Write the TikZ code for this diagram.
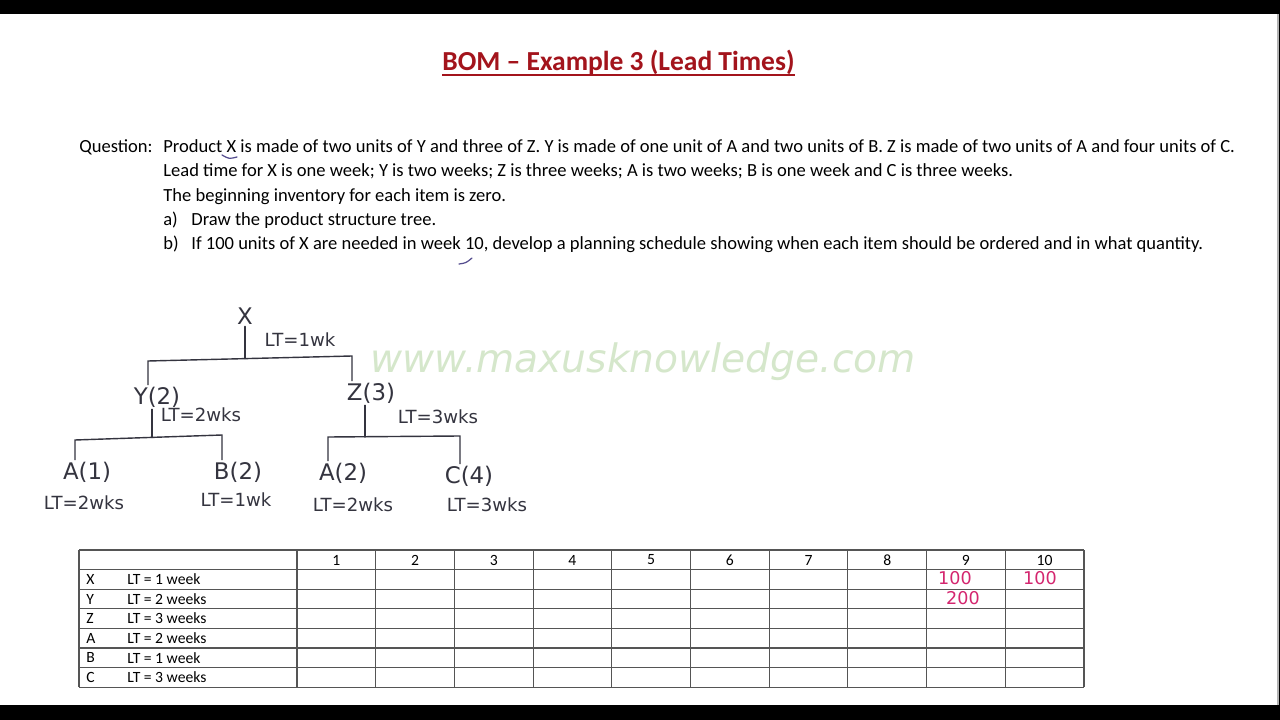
\documentclass[tikz,border=0pt]{standalone}
\usepackage{fontspec}
\setmainfont{Carlito}
\newfontfamily\handfont{DejaVu Sans}
\newfontfamily\markfont{DejaVu Sans}
\usepackage{xcolor}

\definecolor{titlered}{HTML}{A3141C}
\definecolor{ink}{HTML}{34343F}
\definecolor{pen}{HTML}{D4266F}
\definecolor{wmgreen}{HTML}{D5E7CB}
\definecolor{scribble}{HTML}{544C8E}
\definecolor{gridgray}{HTML}{555555}

\newcommand{\bodysize}{\fontsize{10.55}{13.6}\selectfont}
\newcommand{\cellsize}{\fontsize{8.9}{10}\selectfont}

\tikzset{
  body/.style={font=\bodysize, inner sep=0pt, anchor=base west},
  hand/.style={font=\handfont\fontsize{13}{13}\selectfont, text=ink, inner sep=1pt},
  ltlabel/.style={font=\handfont\fontsize{10.3}{10}\selectfont, text=ink, inner sep=0pt},
  pink/.style={font=\handfont\fontsize{10}{10}\selectfont, text=pen, inner sep=0pt},
  cell/.style={font=\cellsize, inner sep=0pt},
  branch/.style={draw=ink, line width=0.8pt, line cap=round},
  gridline/.style={draw=gridgray, line width=0.6pt},
}

\begin{document}
\begin{tikzpicture}[x=0.2mm,y=-0.2mm]
        % screen
        \fill[black] (0,0) rectangle (1280,720);
        \fill[white] (0,14) rectangle (1278,705);
        \draw[gray!60, line width=0.8pt] (1278,14) -- (1278,705);
        %%
        \begin{scope}
          \node[font=\bfseries\fontsize{15.65}{18}\selectfont, text=titlered, inner sep=0pt, anchor=base] (title) at (618.5,71) {BOM – Example 3 (Lead Times)};
          \draw[titlered, line width=1.1pt] ([yshift=-2.4pt]title.base west) -- ([yshift=-2.4pt]title.base east);
        \end{scope}
        %%
        \begin{scope}
          \node[body] (q) at (79,153) {Question:};
          \node[body] (l1) at (163,153) {Product X is made of two units of Y and three of Z. Y is made of one unit of A and two units of B. Z is made of two units of A and four units of C.};
          \node[body] (l2) at (163,177) {Lead time for X is one week; Y is two weeks; Z is three weeks; A is two weeks; B is one week and C is three weeks.};
          \node[body] (l3) at (163,201.5) {The beginning inventory for each item is zero.};
          \node[body] (la) at (163,226) {a)};
          \node[body] (l4) at (191,226) {Draw the product structure tree.};
          \node[body] (lb) at (163,250) {b)};
          \node[body] (l5) at (191,250) {If 100 units of X are needed in week 10, develop a planning schedule showing when each item should be ordered and in what quantity.};
          \draw[scribble, line width=0.7pt, line cap=round] (222,155) .. controls (229,159) .. (237,157);
          \draw[scribble, line width=0.7pt, line cap=round] (459,264) .. controls (466,263) .. (472,258);
        \end{scope}
        %%
        \node[font=\markfont\itshape\fontsize{22.3}{24}\selectfont, text=wmgreen, inner sep=0pt] (wm) at (643,362) {www.maxusknowledge.com};
        %%
        \begin{scope}
          \node[hand] (X) at (245,316) {X};
          \node[ltlabel] (tX) at (300,340) {LT=1wk};
          \coordinate (xa) at (148,361);
          \coordinate (xm) at (245,358.5);
          \coordinate (xb) at (352,356);
          \node[hand] (Y) at (157,397) {Y(2)};
          \node[hand] (Z) at (371,393) {Z(3)};
          \draw[branch] (X) -- (xm);
          \draw[branch] (xa |- Y.north) -- (xa) -- (xb) -- (xb |- Z.north);
          %%
          \node[ltlabel] (tY) at (201,415) {LT=2wks};
          \coordinate (ya) at (75,440);
          \coordinate (ym) at (152,437.5);
          \coordinate (yb) at (222,435);
          \node[hand] (A1) at (87,472) {A(1)};
          \node[hand] (B2) at (238,472) {B(2)};
          \draw[branch] (ym |- Y.south) -- (ym);
          \draw[branch] (ya |- A1.north) -- (ya) -- (yb) -- (yb |- B2.north);
          \node[ltlabel] (tA1) at (84,503) {LT=2wks};
          \node[ltlabel] (tB2) at (236,500) {LT=1wk};
          %%
          \node[ltlabel] (tZ) at (438,417) {LT=3wks};
          \coordinate (za) at (328,437);
          \coordinate (zm) at (365,437);
          \coordinate (zb) at (460,436);
          \node[hand] (A2) at (343,473) {A(2)};
          \node[hand] (C4) at (469,476) {C(4)};
          \draw[branch] (zm |- Z.south) -- (zm);
          \draw[branch] (za |- A2.north) -- (za) -- (zb) -- (zb |- C4.north);
          \node[ltlabel] (tA2) at (353,505) {LT=2wks};
          \node[ltlabel] (tC4) at (487,505) {LT=3wks};
        \end{scope}
        %%
        \begin{scope}
          \foreach \r in {0,...,7}
            \draw[gridline] (79,{550+19.6*\r}) -- (1084,{550+19.6*\r});
          \draw[gridline] (79,550) -- (79,687.2);
          \foreach \c in {0,...,10}
            \draw[gridline] ({297+78.7*\c},550) -- ({297+78.7*\c},687.2);
          \foreach \c in {1,...,10}
            \node[cell] (h\c) at ({297+78.7*(\c-0.5)},560) {\c};
          \foreach \item/\lt [count=\i] in {X/LT = 1 week, Y/LT = 2 weeks, Z/LT = 3 weeks, A/LT = 2 weeks, B/LT = 1 week, C/LT = 3 weeks} {
            \node[cell, anchor=west] (r\item) at (86,{550+19.6*(\i+0.5)}) {\item};
            \node[cell, anchor=west] (rlt\item) at (127,{550+19.6*(\i+0.5)}) {\lt};
          }
          \node[pink] (p9x) at (955,578) {100};
          \node[pink] (p10x) at (1040,578) {100};
          \node[pink] (p9y) at (963,598) {200};
        \end{scope}
    \end{tikzpicture}
\end{document}
